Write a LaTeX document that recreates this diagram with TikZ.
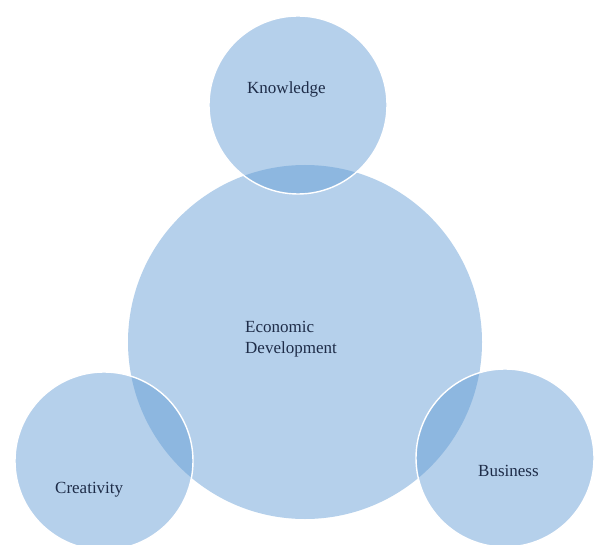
\documentclass[tikz,border=0pt]{standalone}
\usepackage{fontspec}
\setmainfont{Liberation Serif}
\definecolor{bubblefill}{RGB}{98,156,213}
\definecolor{labelink}{RGB}{30,44,72}
\tikzset{
  bubble/.style={circle, fill=bubblefill, fill opacity=0.47, inner sep=0pt, text opacity=1},
  smallbubble/.style={bubble, draw=white, draw opacity=1, line width=1.4pt, minimum size=178pt},
  bigbubble/.style={bubble, draw=none, minimum size=354pt},
  lbl/.style={anchor=base west, inner sep=0pt, text=labelink, font=\fontsize{17}{21}\selectfont},
}
\begin{document}
\begin{tikzpicture}[x=1pt, y=-1pt]
  \useasboundingbox (0,0) rectangle (596,545);
  \fill[white] (0,0) rectangle (596,545);
  \node[bigbubble] (econ) at (305,342) {};
  \node[smallbubble] (know) at (298,105) {};
  \node[smallbubble] (crea) at (104,461) {};
  \node[smallbubble] (busi) at (505,458) {};
  \node[lbl] (knowt) at (247,94) {Knowledge};
  \node[lbl] (econt1) at (245,332) {Economic};
  \node[lbl] (econt2) at (245,353) {Development};
  \node[lbl] (creat) at (55,493) {Creativity};
  \node[lbl] (busit) at (478,476) {Business};
\end{tikzpicture}
\end{document}
